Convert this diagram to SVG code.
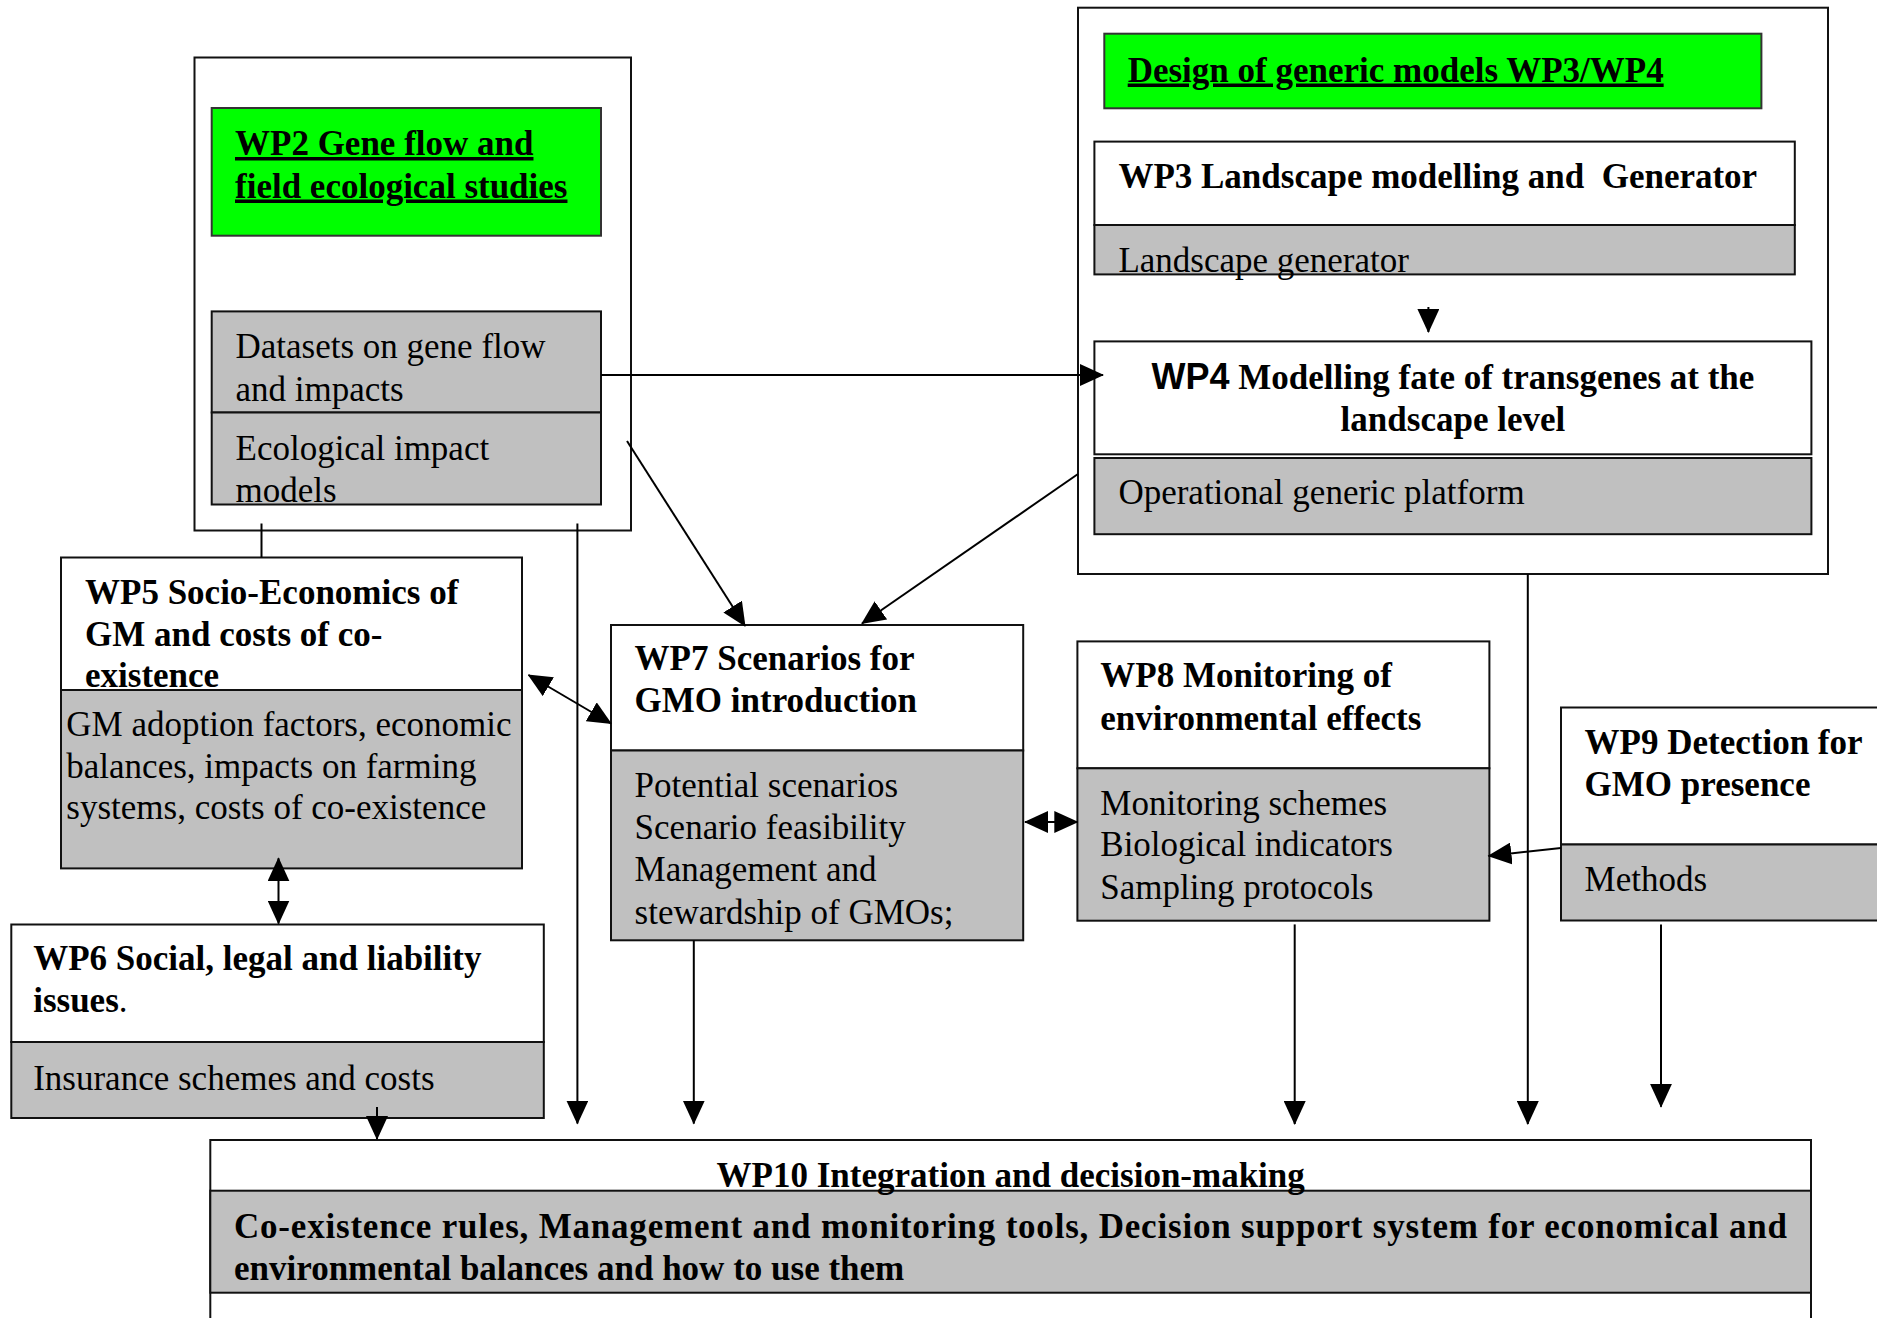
<svg xmlns="http://www.w3.org/2000/svg" width="1877" height="1318" viewBox="0 0 1877 1318">
<style>
.bg{fill:#ffffff}
.box{fill:#ffffff;stroke:#111;stroke-width:2}
.gray{fill:#c0c0c0;stroke:#111;stroke-width:2}
.green{fill:#00ff00;stroke:#333;stroke-width:2}
.outer{fill:none;stroke:#111;stroke-width:2}
.t{font-family:"Liberation Serif","Times New Roman",serif;font-size:35px;fill:#000}
.b{font-weight:bold}
.u{text-decoration:underline}
.sans{font-family:"Liberation Sans",Arial,sans-serif;font-weight:bold;font-size:36px}
.c{stroke:#000;stroke-width:2;fill:none}
</style>
<defs>
<marker id="ah" markerUnits="userSpaceOnUse" markerWidth="24" markerHeight="22" refX="23" refY="11" orient="auto-start-reverse" viewBox="0 0 24 22">
<path d="M0,0 L24,11 L0,22 z" fill="#000"/>
</marker>
</defs>
<rect class="bg" x="0" y="0" width="1877" height="1318"/>

<g id="wp2">
<rect class="outer" x="194.5" y="57.5" width="436.5" height="473"/>
<rect class="green" x="211.7" y="108" width="389.3" height="127.7"/>
<text class="t b u" x="235" y="155">WP2 Gene flow and</text>
<text class="t b u" x="235" y="197.5">field ecological studies</text>
<rect class="gray" x="211.7" y="311.4" width="389.3" height="101.1"/>
<rect class="gray" x="211.7" y="412.5" width="389.3" height="92"/>
<text class="t" x="235.5" y="358">Datasets on gene flow</text>
<text class="t" x="235.5" y="400.5">and impacts</text>
<text class="t" x="235.5" y="460">Ecological impact</text>
<text class="t" x="235.5" y="501.5">models</text>
</g>

<g id="wp34">
<rect class="outer" x="1078" y="7.7" width="750" height="566.3"/>
<rect class="green" x="1104.3" y="33.7" width="657.1" height="74.6"/>
<text class="t b u" x="1127.7" y="81.5">Design of generic models WP3/WP4</text>
</g>

<g id="wp3">
<rect class="box" x="1094.4" y="141.6" width="700.4" height="83.4"/>
<rect class="gray" x="1094.4" y="225" width="700.4" height="49.4"/>
<text class="t b" x="1118.4" y="188" xml:space="preserve">WP3 Landscape modelling and  Generator</text>
<text class="t" x="1118.4" y="271.5">Landscape generator</text>
</g>

<g id="wp4">
<rect class="box" x="1094.4" y="341.4" width="717" height="112.9"/>
<rect class="gray" x="1094.4" y="458" width="717" height="76.2"/>
<text class="t b" x="1452.9" y="389" text-anchor="middle"><tspan class="sans">WP4</tspan> Modelling fate of transgenes at the</text>
<text class="t b" x="1452.9" y="430.5" text-anchor="middle">landscape level</text>
<text class="t" x="1118.4" y="504">Operational generic platform</text>
</g>

<g id="wp5">
<rect class="box" x="61" y="557.5" width="461" height="132.5"/>
<rect class="gray" x="61" y="690" width="461" height="178.4"/>
<text class="t b" x="85" y="604">WP5 Socio-Economics of</text>
<text class="t b" x="85" y="645.5">GM and costs of co-</text>
<text class="t b" x="85" y="687">existence</text>
<text class="t" x="66.3" y="736">GM adoption factors, economic</text>
<text class="t" x="66.3" y="777.5">balances, impacts on farming</text>
<text class="t" x="66.3" y="819">systems, costs of co-existence</text>
</g>

<g id="wp6">
<rect class="box" x="11.3" y="924.5" width="532.5" height="117.5"/>
<rect class="gray" x="11.3" y="1042" width="532.5" height="76"/>
<text class="t b" x="33.2" y="970">WP6 Social, legal and liability</text>
<text class="t" x="33.2" y="1012"><tspan class="b">issues</tspan>.</text>
<text class="t" x="33.2" y="1089.5">Insurance schemes and costs</text>
</g>

<g id="wp7">
<rect class="box" x="611" y="625" width="412.2" height="125.5"/>
<rect class="gray" x="611" y="750.5" width="412.2" height="189.8"/>
<text class="t b" x="634.6" y="669.5">WP7 Scenarios for</text>
<text class="t b" x="634.6" y="711.5">GMO introduction</text>
<text class="t" x="634.6" y="797">Potential scenarios</text>
<text class="t" x="634.6" y="839">Scenario feasibility</text>
<text class="t" x="634.6" y="881">Management and</text>
<text class="t" x="634.6" y="924">stewardship of GMOs;</text>
</g>

<g id="wp8">
<rect class="box" x="1077.4" y="641.4" width="412" height="126.9"/>
<rect class="gray" x="1077.4" y="768.3" width="412" height="152.4"/>
<text class="t b" x="1100.3" y="687">WP8 Monitoring of</text>
<text class="t b" x="1100.3" y="729.5">environmental effects</text>
<text class="t" x="1100.3" y="814.5">Monitoring schemes</text>
<text class="t" x="1100.3" y="856">Biological indicators</text>
<text class="t" x="1100.3" y="898.5">Sampling protocols</text>
</g>

<g id="wp9">
<rect class="box" x="1561" y="707.5" width="330" height="137"/>
<rect class="gray" x="1561" y="844.5" width="330" height="76"/>
<text class="t b" x="1584.6" y="753.5">WP9 Detection for</text>
<text class="t b" x="1584.6" y="796">GMO presence</text>
<text class="t" x="1584.6" y="890.5">Methods</text>
</g>

<g id="wp10">
<rect class="box" x="210.3" y="1140" width="1600.7" height="190"/>
<rect class="gray" x="210.3" y="1190.7" width="1600.7" height="102"/>
<text class="t b" x="1010.7" y="1186.5" text-anchor="middle">WP10 Integration and decision-making</text>
<text class="t b" x="234" y="1238" textLength="1553" lengthAdjust="spacing">Co-existence rules, Management and monitoring tools, Decision support system for economical and</text>
<text class="t b" x="234" y="1279.5">environmental balances and how to use them</text>
</g>

<g id="connectors">
<line class="c" x1="261.5" y1="523.5" x2="261.5" y2="557.5"/>
<line class="c" x1="601" y1="375" x2="1103" y2="375" marker-end="url(#ah)"/>
<line class="c" x1="1428.4" y1="307" x2="1428.4" y2="332" marker-end="url(#ah)"/>
<line class="c" x1="627" y1="441" x2="745" y2="626" marker-end="url(#ah)"/>
<line class="c" x1="1078" y1="474" x2="862" y2="623.5" marker-end="url(#ah)"/>
<line class="c" x1="528.5" y1="675" x2="611" y2="723.5" marker-start="url(#ah)" marker-end="url(#ah)"/>
<line class="c" x1="278.5" y1="858.3" x2="278.5" y2="923.5" marker-start="url(#ah)" marker-end="url(#ah)"/>
<line class="c" x1="1025" y1="822" x2="1077.3" y2="822" marker-start="url(#ah)" marker-end="url(#ah)"/>
<line class="c" x1="1561" y1="848" x2="1488.5" y2="856" marker-end="url(#ah)"/>
<line class="c" x1="577.4" y1="523.5" x2="577.4" y2="1123.6" marker-end="url(#ah)"/>
<line class="c" x1="693.8" y1="940.3" x2="693.8" y2="1123.6" marker-end="url(#ah)"/>
<line class="c" x1="1294.7" y1="924.4" x2="1294.7" y2="1124" marker-end="url(#ah)"/>
<line class="c" x1="1527.8" y1="574" x2="1527.8" y2="1124" marker-end="url(#ah)"/>
<line class="c" x1="1661" y1="924.4" x2="1661" y2="1106.8" marker-end="url(#ah)"/>
<line class="c" x1="377" y1="1107" x2="377" y2="1139" marker-end="url(#ah)"/>
</g>
</svg>
